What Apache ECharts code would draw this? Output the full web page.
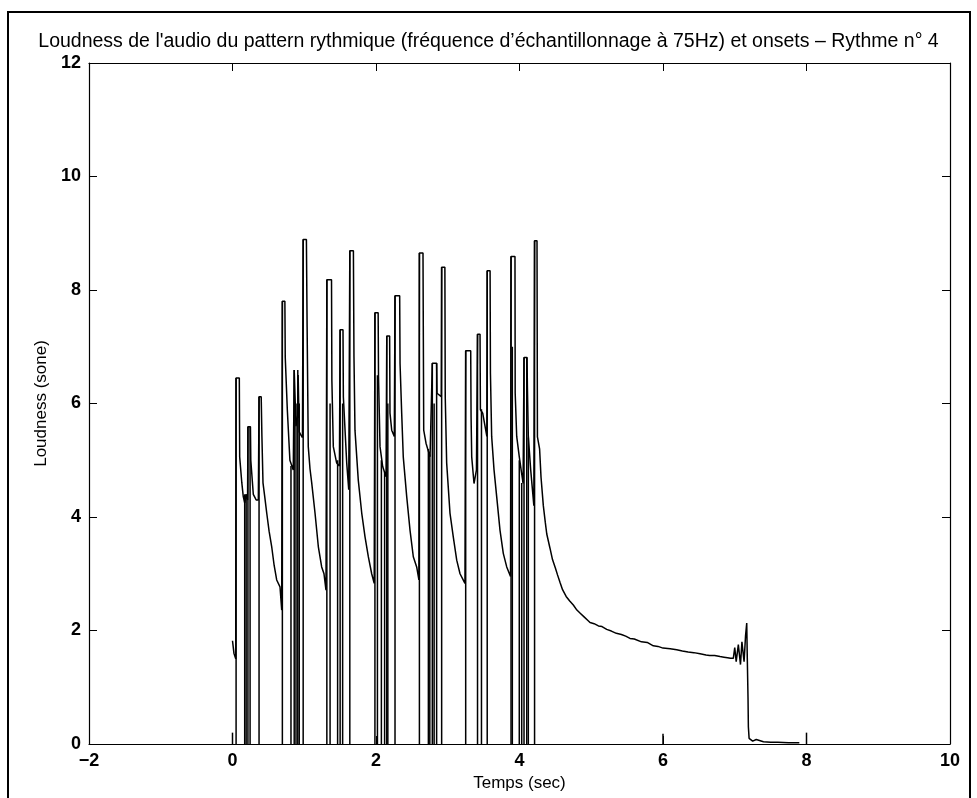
<!DOCTYPE html>
<html><head><meta charset="utf-8">
<script src="https://cdn.jsdelivr.net/npm/echarts@6/dist/echarts.min.js"></script>
<style>html,body{margin:0;padding:0;background:#fff}#c{width:977px;height:798px}</style>
</head><body><div id="c"></div>
<script>
const titleText = "Loudness de l'audio du pattern rythmique (fréquence d’échantillonnage à 75Hz) et onsets – Rythme n° 4";
const xName = "Temps (sec)";
const yName = "Loudness (sone)";
const xTicks = [-2, 0, 2, 4, 6, 8, 10];
const yTicks = [0, 2, 4, 6, 8, 10, 12];

// loudness curve (time in s, loudness in sone)
const loudT = [0.0,0.02,0.045,0.049,0.095,0.10,0.13,0.15,0.17,0.19,0.21,0.215,0.25,0.255,0.29,0.31,0.33,0.36,0.37,0.40,0.41,0.425,0.45,0.477,0.51,0.546,0.58,0.616,0.662,0.686,0.695,0.73,0.735,0.764,0.80,0.847,0.86,0.88,0.885,0.91,0.915,0.93,0.95,0.975,0.985,1.03,1.04,1.056,1.08,1.104,1.15,1.196,1.243,1.275,1.303,1.315,1.38,1.385,1.405,1.452,1.49,1.50,1.54,1.545,1.592,1.62,1.635,1.685,1.693,1.707,1.753,1.801,1.847,1.893,1.94,1.975,1.985,2.03,2.035,2.056,2.093,2.14,2.15,2.19,2.195,2.219,2.255,2.265,2.33,2.335,2.358,2.38,2.428,2.474,2.52,2.567,2.598,2.605,2.655,2.66,2.665,2.697,2.753,2.785,2.845,2.85,2.91,2.915,2.96,2.965,2.985,3.031,3.077,3.125,3.171,3.24,3.25,3.32,3.325,3.334,3.366,3.40,3.415,3.45,3.455,3.487,3.545,3.55,3.59,3.595,3.612,3.645,3.682,3.728,3.774,3.822,3.875,3.882,3.937,3.94,3.961,3.997,4.05,4.063,4.105,4.11,4.123,4.156,4.20,4.21,4.244,4.25,4.262,4.28,4.30,4.332,4.36,4.38,4.425,4.46,4.50,4.53,4.564,4.60,4.65,4.70,4.75,4.80,4.85,4.90,4.95,4.983,5.04,5.1,5.15,5.215,5.28,5.35,5.42,5.48,5.54,5.6,5.7,5.78,5.865,5.93,6.0,6.1,6.191,6.27,6.35,6.43,6.516,6.6,6.65,6.72,6.795,6.85,6.9,6.94,6.98,7.0,7.02,7.05,7.08,7.10,7.13,7.15,7.167,7.175,7.185,7.19,7.2,7.25,7.3,7.4,7.5,7.6,7.75,7.9];
const loudV = [1.82,1.6,1.5,6.45,6.45,5.06,4.6,4.36,4.25,4.4,4.3,5.59,5.59,5.0,4.4,4.35,4.3,4.3,6.12,6.12,5.42,4.6,4.35,4.07,3.75,3.48,3.15,2.89,2.77,2.36,7.8,7.8,6.82,5.89,5.0,4.83,6.59,6.59,5.6,5.8,6.5,5.5,5.45,5.4,8.89,8.89,7.35,5.24,4.85,4.6,4.07,3.48,3.12,3.0,2.71,8.18,8.18,6.41,5.24,4.95,4.9,7.3,7.3,6.12,4.95,4.48,8.69,8.69,6.82,5.53,4.65,4.07,3.65,3.3,3.0,2.83,7.6,7.6,6.47,5.24,4.89,4.71,7.19,7.19,5.83,5.53,5.42,7.9,7.9,6.71,5.83,5.06,4.36,3.77,3.3,3.12,2.89,8.65,8.65,7.12,5.53,5.3,5.06,6.71,6.71,6.18,6.12,8.4,8.4,6.12,4.95,4.07,3.65,3.24,3.0,2.83,6.93,6.93,5.77,5.06,4.59,4.83,7.22,7.22,5.89,5.83,5.42,8.34,8.34,6.53,5.42,4.83,4.36,3.77,3.36,3.12,2.95,8.59,8.59,6.18,5.42,5.06,4.59,6.81,6.81,6.3,5.42,4.83,4.2,8.87,8.87,5.41,5.38,5.2,4.7,4.2,3.9,3.7,3.45,3.25,3.1,2.98,2.85,2.72,2.6,2.52,2.45,2.36,2.3,2.24,2.18,2.14,2.12,2.08,2.07,2.02,1.99,1.95,1.93,1.9,1.86,1.85,1.8,1.79,1.73,1.72,1.69,1.68,1.66,1.64,1.62,1.61,1.59,1.57,1.56,1.56,1.54,1.53,1.52,1.51,1.51,1.7,1.45,1.75,1.4,1.8,1.45,1.9,2.13,1.5,0.8,0.3,0.1,0.05,0.08,0.04,0.03,0.03,0.02,0.02];

// onset stems (time in s, height in sone)
const onsetT = [0.05,0.17,0.19,0.215,0.245,0.37,0.695,0.815,0.86,0.885,0.91,0.93,0.985,1.315,1.36,1.465,1.50,1.535,1.635,1.985,2.02,2.075,2.12,2.15,2.165,2.265,2.605,2.73,2.75,2.785,2.81,2.845,2.915,3.25,3.415,3.47,3.55,3.882,3.90,3.997,4.031,4.063,4.101,4.123,4.21];
const onsetH = [6.45,4.4,4.4,5.59,5.59,6.12,7.8,4.9,6.59,6.0,6.59,6.0,8.89,8.18,6.0,5.0,7.3,6.0,8.69,7.6,6.5,5.0,4.8,7.19,6.0,7.9,8.65,5.2,5.1,6.71,6.0,6.71,8.4,6.93,7.22,5.9,8.34,8.59,7.0,5.0,4.6,6.81,6.81,5.4,8.87];

// small markers
const markT = [0, 6, 8];
const markH = [0.2, 0.18, 0.2];

const FONT = "'Liberation Sans', Arial, Helvetica, sans-serif";
const chart = echarts.init(document.getElementById('c'), null, {renderer: 'canvas'});

function stem(params, api) {
  const x = api.value(0), h = api.value(1);
  const p0 = api.coord([x, 0]);
  const p1 = api.coord([x, h]);
  return {type: 'line', shape: {x1: p0[0], y1: p0[1], x2: p1[0], y2: p1[1]},
          style: {stroke: '#000', lineWidth: 1.5}};
}
const minusFmt = v => (v < 0 ? '\u2212' + Math.abs(v) : String(v));

const axisCommon = {
  type: 'value',
  axisLine: {show: true, onZero: false, lineStyle: {color: '#000', width: 1.2}},
  axisTick: {show: true, inside: true, length: 8, lineStyle: {color: '#000', width: 1}},
  splitLine: {show: false},
};

chart.setOption({
  animation: false,
  backgroundColor: '#fff',
  title: {text: titleText, left: 'center', top: 27,
          textStyle: {fontFamily: FONT, fontSize: 19.5, fontWeight: 'normal', color: '#000'}},
  grid: {left: 89, right: 27, top: 63, bottom: 54, show: false},
  xAxis: [
    Object.assign({}, axisCommon, {min: xTicks[0], max: xTicks[xTicks.length - 1], interval: 2, position: 'bottom',
      name: xName, nameLocation: 'middle', nameGap: 30,
      nameTextStyle: {fontFamily: FONT, fontSize: 17, color: '#000'},
      axisLabel: {show: true, margin: 8, color: '#000', fontFamily: FONT, fontSize: 18, fontWeight: 'bold', formatter: minusFmt}}),
    Object.assign({}, axisCommon, {min: xTicks[0], max: xTicks[xTicks.length - 1], interval: 2, position: 'top',
      axisLabel: {show: false}})
  ],
  yAxis: [
    Object.assign({}, axisCommon, {min: yTicks[0], max: yTicks[yTicks.length - 1], interval: 2, position: 'left',
      name: yName, nameLocation: 'middle', nameGap: 37,
      nameTextStyle: {fontFamily: FONT, fontSize: 17, color: '#000'},
      axisLabel: {show: true, margin: 8, color: '#000', fontFamily: FONT, fontSize: 18, fontWeight: 'bold'}}),
    Object.assign({}, axisCommon, {min: yTicks[0], max: yTicks[yTicks.length - 1], interval: 2, position: 'right',
      axisLabel: {show: false}})
  ],
  graphic: [{type: 'rect', shape: {x: 8, y: 12, width: 962, height: 800},
             style: {fill: 'none', stroke: '#000', lineWidth: 2}, silent: true}],
  series: [
    {type: 'line', xAxisIndex: 0, yAxisIndex: 0, data: loudT.map((t, i) => [t, loudV[i]]),
     showSymbol: false, symbol: 'none', lineStyle: {color: '#000', width: 1.5}},
    {type: 'custom', xAxisIndex: 0, yAxisIndex: 0, renderItem: stem,
     data: onsetT.map((t, i) => [t, onsetH[i]]), encode: {x: 0, y: 1}},
    {type: 'custom', xAxisIndex: 0, yAxisIndex: 0, renderItem: stem,
     data: markT.map((t, i) => [t, markH[i]]), encode: {x: 0, y: 1}}
  ]
});
</script></body></html>
